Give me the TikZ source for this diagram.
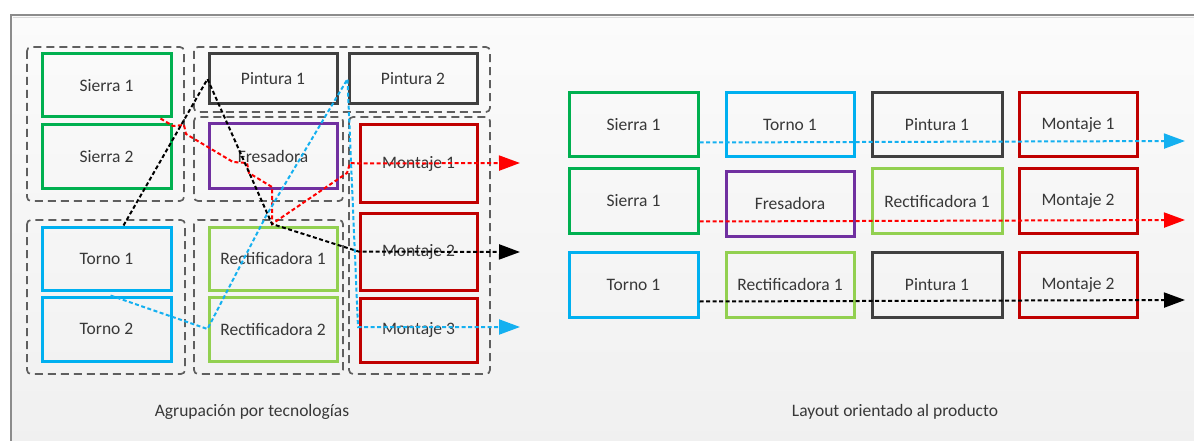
\documentclass[tikz,border=0pt]{standalone}
\usepackage{fontspec}
\setmainfont{Carlito}
\usetikzlibrary{arrows.meta,calc}

\definecolor{sierra}{RGB}{0,176,80}
\definecolor{torno}{RGB}{0,176,240}
\definecolor{pintura}{RGB}{64,64,64}
\definecolor{fresa}{RGB}{112,48,160}
\definecolor{rectif}{RGB}{146,208,80}
\definecolor{montaje}{RGB}{192,0,0}
\definecolor{txt}{RGB}{56,56,56}
\definecolor{grp}{RGB}{95,95,95}
\definecolor{framegray}{RGB}{140,140,140}
\definecolor{flowblue}{RGB}{20,176,240}
\definecolor{flowred}{RGB}{255,0,0}

\tikzset{
  machine/.style={draw, rectangle, line width=3pt, inner sep=0pt,
    font=\fontsize{17.5}{20}\selectfont, text=txt},
  group/.style={draw=grp, line width=1.7pt, dash pattern=on 8pt off 5pt,
    rounded corners=4pt},
  flow/.style={line width=2pt, dash pattern=on 4pt off 2.5pt,
    -{Triangle[length=21pt,width=15pt]}},
  caption/.style={font=\fontsize{17.5}{20}\selectfont, text=txt}
}

\begin{document}
\begin{tikzpicture}[x=1pt,y=-1pt]
\useasboundingbox (0,0) rectangle (1194,441);
\clip (0,0) rectangle (1194,441);

% page and frame
\fill[white] (0,0) rectangle (1194,441);
\shade[top color={rgb,255:red,251;green,251;blue,251},
       bottom color={rgb,255:red,240;green,240;blue,240}]
  (11,15) rectangle (1200,450);
\draw[framegray, line width=2.2pt] (11,450) -- (11,15) -- (1200,15);
\draw[white!85!black, line width=0.8pt] (13,17.5) -- (1200,17.5);

% ---------- grouping by technology ----------
\draw[group] (27,47) rectangle (184,201);
\draw[group] (194,47) rectangle (490,112);
\draw[group] (194,117) rectangle (343,201);
\draw[group] (349,117) rectangle (490,374);
\draw[group] (27,220) rectangle (185,374);
\draw[group] (194,220) rectangle (343,374);

\node[machine, draw=sierra,  minimum width=129pt, minimum height=63pt] (lS1) at (106.5,85.5) {Sierra 1};
\node[machine, draw=sierra,  minimum width=129pt, minimum height=63pt] (lS2) at (106.5,156.5) {Sierra 2};
\node[machine, draw=pintura, minimum width=128pt, minimum height=50pt] (lP1) at (273,79) {Pintura 1};
\node[machine, draw=pintura, minimum width=128pt, minimum height=50pt] (lP2) at (413,79) {Pintura 2};
\node[machine, draw=fresa,   minimum width=128pt, minimum height=64pt] (lF)  at (273,156) {Fresadora};
\node[machine, draw=montaje, minimum width=117pt, minimum height=77pt] (lM1) at (418.5,163.5) {Montaje 1};
\node[machine, draw=montaje, minimum width=117pt, minimum height=77pt] (lM2) at (418.5,251.5) {Montaje 2};
\node[machine, draw=montaje, minimum width=117pt, minimum height=64pt] (lM3) at (418.5,330) {Montaje 3};
\node[machine, draw=torno,   minimum width=129pt, minimum height=63pt] (lT1) at (106.5,258.5) {Torno 1};
\node[machine, draw=torno,   minimum width=129pt, minimum height=64pt] (lT2) at (106.5,329) {Torno 2};
\node[machine, draw=rectif,  minimum width=128pt, minimum height=63pt] (lR1) at (273,258.5) {Rectificadora 1};
\node[machine, draw=rectif,  minimum width=128pt, minimum height=64pt] (lR2) at (273,329) {Rectificadora 2};

% bends of the flows
\coordinate (hub) at (272,224);
\coordinate (r1) at (173,126);
\coordinate (r2) at (184,125);
\coordinate (r3) at (186,134);
\coordinate (r4) at (233,162);
\coordinate (r5) at (247,163);
\coordinate (r6) at (249,173);
\coordinate (r7) at (272,187);
\coordinate (r8) at (347,173);
\coordinate (r9) at (350,163);
\coordinate (b1) at (266,216);
\coordinate (b2) at (358,327);
\coordinate (endR) at (520,163);
\coordinate (endK) at (520,252);
\coordinate (endB) at (520,327);

\draw[flow, flowred] ($(lS1.south east)+(-12,0)$) -- (r1) -- (r2) -- (r3) -- (r4)
  -- (r5) -- (r6) -- (r7) -- (hub) -- (r8) -- (r9) -- (lM1.west) -- (endR);
\draw[flow, black] ($(lT1.north)+(17,0)$) -- (lP1.west) -- (hub)
  -- (lM2.west) -- (endK);
\draw[flow, flowblue] ($(lT2.north)+(4,0)$) -- (lR2.west) -- (b1)
  -- (lP2.west) -- (b2) -- (endB);

\node[caption] (capL) at (252,412) {Agrupación por tecnologías};

% ---------- product layout ----------
\node[machine, draw=sierra,  minimum width=129pt, minimum height=64pt] (aS) at (633.5,125) {Sierra 1};
\node[machine, draw=torno,   minimum width=128pt, minimum height=64pt] (aT) at (790,125) {Torno 1};
\node[machine, draw=pintura, minimum width=130pt, minimum height=64pt] (aP) at (937,125) {Pintura 1};
\node[machine, draw=montaje, minimum width=118pt, minimum height=64pt] (aM) at (1078,125) {Montaje 1};

\node[machine, draw=sierra,  minimum width=129pt, minimum height=65pt] (bS) at (633.5,201) {Sierra 1};
\node[machine, draw=fresa,   minimum width=128pt, minimum height=65pt] (bF) at (790,203.5) {Fresadora};
\node[machine, draw=rectif,  minimum width=130pt, minimum height=65pt] (bR) at (937,201) {Rectificadora 1};
\node[machine, draw=montaje, minimum width=118pt, minimum height=65pt] (bM) at (1078,201) {Montaje 2};

\node[machine, draw=torno,   minimum width=129pt, minimum height=65pt] (cT) at (633.5,284.5) {Torno 1};
\node[machine, draw=rectif,  minimum width=128pt, minimum height=65pt] (cR) at (790,284.5) {Rectificadora 1};
\node[machine, draw=pintura, minimum width=130pt, minimum height=65pt] (cP) at (937,284.5) {Pintura 1};
\node[machine, draw=montaje, minimum width=118pt, minimum height=65pt] (cM) at (1078,284.5) {Montaje 2};

\coordinate (aEnd) at (1185,141);
\coordinate (bEnd) at (1185,220);
\coordinate (cEnd) at (1185,300);

\draw[flow, flowblue] ($(aS.south east)+(0,-16)$) -- (aEnd);
\draw[flow, flowred]  ($(bS.south east)+(0,-13.5)$) -- (bEnd);
\draw[flow, black]    ($(cT.south east)+(0,-17)$) -- (cEnd);

\node[caption] (capR) at (895,412) {Layout orientado al producto};
\end{tikzpicture}
\end{document}
